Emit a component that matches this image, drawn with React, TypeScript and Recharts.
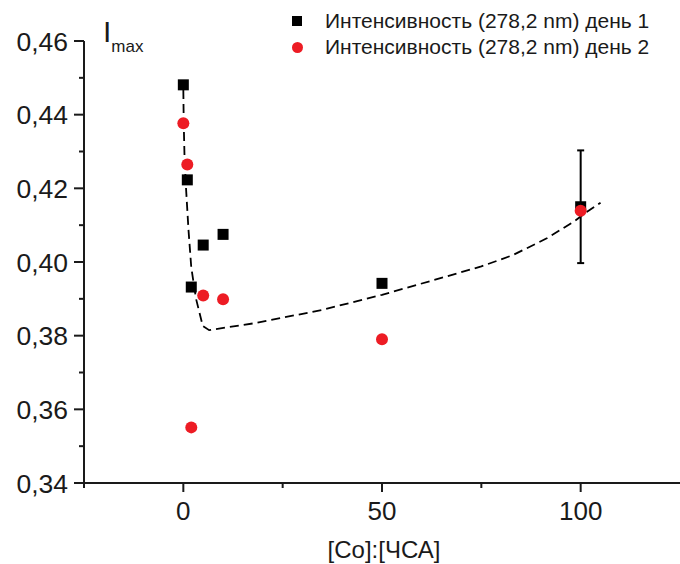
import React from 'react';
import {
  ComposedChart,
  Scatter,
  Line,
  XAxis,
  YAxis,
  ErrorBar,
  Label,
} from 'recharts';

// measured values
const ratio = [0, 1, 2, 5, 10, 50, 100];
const day1 = [0.4481, 0.4223, 0.3932, 0.4046, 0.4075, 0.3942, 0.415];
const day1Err = [0, 0, 0, 0, 0, 0, 0.0153];
const day2 = [0.4377, 0.4265, 0.3551, 0.3909, 0.3899, 0.379, 0.4139];

// dashed fit curve
const fitX = [0, 0.1, 0.3, 0.7, 1.3, 2, 3.2, 4.9, 6.5, 18, 35, 50, 66, 75, 83, 91.6, 98.3, 101.7, 105];
const fitY = [
  0.4467, 0.4377, 0.4286, 0.4196, 0.4087, 0.3985, 0.39, 0.3826, 0.3815, 0.3834, 0.387, 0.3911,
  0.396, 0.3988, 0.4019, 0.4065, 0.411, 0.4137, 0.4161,
];

const xTicks = [-25, 0, 25, 50, 75, 100];
const xLabeled = [0, 50, 100];
const yTicks = [0.34, 0.35, 0.36, 0.37, 0.38, 0.39, 0.4, 0.41, 0.42, 0.43, 0.44, 0.45, 0.46];

const legendNames = ['Интенсивность (278,2 nm) день 1', 'Интенсивность (278,2 nm) день 2'];

const W = 680;
const H = 564;
const LEFT = 84;
const TOP = 41;
const BOTTOM = 81;
const AXIS_Y = H - BOTTOM;
const FONT = 'Arial, "Liberation Sans", sans-serif';
const INK = '#1a1a1a';
const RED = '#ed1c24';

const day1Data = ratio.map((x, i) => ({ x, y: day1[i], err: day1Err[i] }));
const day2Data = ratio.map((x, i) => ({ x, y: day2[i] }));
const errData = day1Data.filter((d) => d.err > 0);
const fitData = fitX.map((x, i) => ({ x, y: fitY[i] }));

const XTick = (props: any) => {
  const { x, payload } = props;
  const major = xLabeled.includes(payload.value);
  return (
    <g>
      <line x1={x} x2={x} y1={AXIS_Y} y2={AXIS_Y + (major ? 9 : 5)} stroke={INK} strokeWidth={2} />
      {major && (
        <text x={x} y={AXIS_Y + 37} textAnchor="middle" fontSize={26} fontFamily={FONT} fill={INK}>
          {payload.value}
        </text>
      )}
    </g>
  );
};

const YTick = (props: any) => {
  const { y, payload } = props;
  const v = payload.value;
  const major = Math.round(v * 100) % 2 === 0;
  return (
    <g>
      <line x1={LEFT - (major ? 10 : 5)} x2={LEFT} y1={y} y2={y} stroke={INK} strokeWidth={2} />
      {major && (
        <text x={LEFT - 16} y={y + 9.5} textAnchor="end" fontSize={26.5} fontFamily={FONT} fill={INK}>
          {v.toFixed(2).replace('.', ',')}
        </text>
      )}
    </g>
  );
};

const Square = (p: any) => <rect x={p.cx - 5.5} y={p.cy - 5.5} width={11} height={11} fill="#000" />;
const Dot = (p: any) => <circle cx={p.cx} cy={p.cy} r={6} fill={RED} />;
const Nothing = () => <g />;

const LegendBox = () => (
  <div
    style={{
      position: 'absolute',
      left: 290,
      top: 8,
      fontFamily: FONT,
      fontSize: 21,
      color: INK,
      lineHeight: '26px',
    }}
  >
    {legendNames.map((name, i) => (
      <div key={name} style={{ display: 'flex', alignItems: 'center', whiteSpace: 'nowrap' }}>
        <span style={{ width: 35, display: 'inline-flex', justifyContent: 'flex-start' }}>
          {i === 0 ? (
            <span style={{ width: 10, height: 10, background: '#000', marginLeft: 2 }} />
          ) : (
            <span style={{ width: 11, height: 11, borderRadius: 6, background: RED, marginLeft: 2 }} />
          )}
        </span>
        {name}
      </div>
    ))}
  </div>
);

const YTitle = () => (
  <text x={103} y={42} fontFamily={FONT} fill={INK} fontSize={30}>
    I
    <tspan fontSize={17} dy={10}>
      max
    </tspan>
  </text>
);

const XTitle = () => (
  <text x={384} y={558} textAnchor="middle" fontFamily={FONT} fill={INK} fontSize={24}>
    [Co]:[ЧСА]
  </text>
);

export default function App() {
  return (
    <div style={{ position: 'absolute', left: 0, top: 0, width: W, height: H, background: '#fff' }}>
      <ComposedChart width={W} height={H} margin={{ top: TOP, right: 0, bottom: 0, left: 0 }}>
        <XAxis
          type="number"
          dataKey="x"
          domain={[-25, 125]}
          ticks={xTicks}
          allowDataOverflow
          height={BOTTOM}
          axisLine={{ stroke: INK, strokeWidth: 2 }}
          tickLine={false}
          tick={<XTick />}
          interval={0}
        >
          <Label content={<XTitle />} />
        </XAxis>
        <YAxis
          type="number"
          dataKey="y"
          domain={[0.34, 0.46]}
          ticks={yTicks}
          allowDataOverflow
          width={LEFT}
          axisLine={{ stroke: INK, strokeWidth: 2 }}
          tickLine={false}
          tick={<YTick />}
          interval={0}
        >
          <Label content={<YTitle />} />
        </YAxis>
        <Scatter name={legendNames[0]} data={day1Data} dataKey="y" shape={<Square />} isAnimationActive={false} />
        <Scatter name={legendNames[1]} data={day2Data} dataKey="y" shape={<Dot />} isAnimationActive={false} />
        <Scatter data={errData} dataKey="y" shape={<Nothing />} isAnimationActive={false}>
          <ErrorBar dataKey="err" direction="y" width={3.5} stroke="#000" strokeWidth={2} isAnimationActive={false} />
        </Scatter>
        <Line
          data={fitData}
          dataKey="y"
          type="linear"
          dot={false}
          activeDot={false}
          stroke="#000"
          strokeWidth={1.8}
          strokeDasharray="9 5"
          isAnimationActive={false}
        />
      </ComposedChart>
      <LegendBox />
    </div>
  );
}
